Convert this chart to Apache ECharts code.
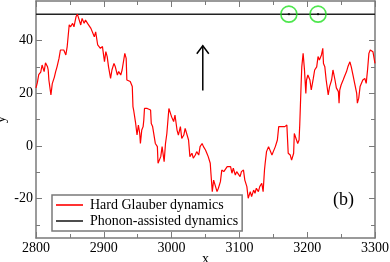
<!DOCTYPE html>
<html>
<head>
<meta charset="utf-8">
<script src="https://cdn.jsdelivr.net/npm/echarts@6/dist/echarts.min.js"></script>
<style>html,body{margin:0;padding:0;background:#fff}#c{width:390px;height:262px}</style>
</head>
<body>
<div id="c"></div>
<script>
// ---- data ----
const timeX = [2800,2802,2804,2807,2809,2812,2814,2817,2818,2819,2822,2824,2827,2829,2831,2834,2836,2841,2844,2846,2849,2851,2854,2856,2859,2861,2863,2866,2868,2871,2873,2876,2878,2881,2883,2886,2888,2891,2893,2895,2898,2900,2901,2903,2905,2907,2910,2912,2915,2917,2920,2922,2925,2927,2929,2931,2933,2934,2939,2942,2943,2944,2947,2949,2951,2953,2954,2956,2958,2959,2960,2964,2969,2970,2972,2974,2976,2979,2980,2982,2984,2986,2989,2991,2993,2996,2998,3000,3003,3005,3008,3010,3013,3015,3018,3020,3022,3025,3027,3030,3032,3035,3037,3040,3042,3045,3047,3050,3052,3054,3057,3058,3060,3062,3064,3067,3069,3072,3074,3077,3079,3082,3084,3087,3089,3091,3094,3096,3098,3101,3103,3106,3108,3111,3113,3116,3118,3121,3123,3125,3128,3130,3133,3135,3137,3138,3140,3143,3145,3148,3150,3153,3155,3156,3158,3162,3167,3170,3171,3172,3175,3177,3180,3181,3183,3186,3188,3189,3191,3192,3194,3196,3198,3199,3201,3204,3206,3209,3211,3214,3216,3218,3221,3223,3224,3226,3228,3231,3233,3236,3238,3241,3243,3246,3247,3248,3250,3253,3255,3258,3260,3263,3265,3268,3270,3273,3274,3276,3278,3280,3282,3285,3287,3289,3291,3293,3295,3297,3300];
const hardGlauberY = [22,24,27,28,30.7,28.2,31.5,30,28.8,25,19.3,23.6,26,28.2,30,33.3,36.4,36.4,34.5,37.7,46,45.2,46.5,45.2,49,50,48.4,45.9,48.4,46.5,47.8,46.5,47.1,44.6,45.2,41.4,43.3,38.3,38.9,37,37.7,37.7,32,35.8,33.9,30,25.6,28.8,31.3,30,26.9,28.2,26.9,28.8,28.2,35.1,33.2,25,24.4,22.5,14.9,13.6,8.5,4.1,7.9,4.7,0.9,6,7.3,9.8,14.2,14.2,13.6,8.5,7.3,7.9,0.9,-0.3,-6.6,-6.6,-4.1,-0.3,-6,0.9,4.7,14.2,13.6,11,9.2,11.7,6,4.1,7.3,2.8,4.1,6.6,7.3,2.2,-4.1,-2.8,-4.7,-3.5,-2.2,-3.5,-0.3,0.9,-0.3,-1.6,-2.8,-4.1,-6.6,-10.4,-17.4,-13,-13.6,-17.4,-16.1,-13.6,-9.2,-9.8,-9.2,-7.9,-7.3,-7.9,-10.4,-8.5,-11.1,-9.8,-10.4,-11.7,-9.8,-9.2,-13,-15.5,-19.9,-17.4,-19.3,-16.8,-18,-16.1,-17.4,-15.5,-14.2,-17.4,-9.2,-6.6,-2.2,-0.3,-0.3,-3.5,-2.2,-0.3,-0.3,2.2,7.3,7.3,7.3,7.9,7.3,-2.8,-3.5,-5.4,-2.8,4.7,4.7,0.9,2.2,7.9,23.1,30,35.1,28.8,19.9,25,26.9,25,21.2,25.6,28.8,30,33.9,32.6,34.5,37,31.3,30,25,19.3,22.5,25,28.8,25,22,20.6,16.2,21.2,23.1,25,26.3,28.2,30,31.9,30,26.3,23.7,19.9,16.2,18.1,22.5,23.1,25,25.6,23.7,28.8,35.1,36.4,37,35.7,31.3];
const phononX = [2800, 3300];
const phononY = [50, 50];
const markedX = [3173, 3216];
const markedY = [50, 50];
const arrowFrom = [3046, 21];
const arrowTo = [3046, 38];
const yTickValues = [-20, 0, 20, 40];
const yMinorValues = [-30, -10, 10, 30, 50];
const seriesNames = ['Hard Glauber dynamics', 'Phonon-assisted dynamics'];
const seriesColors = ['#ff0000', '#222222'];
const panelLabel = '(b)';

// ---- chart ----
const FONT = 'Liberation Serif';
const AX = '#7a7a7a';
const chart = echarts.init(document.getElementById('c'), null, {renderer: 'canvas'});
const pairs = (xs, ys) => xs.map((x, i) => [x, ys[i]]);

const yBase = {type: 'value', min: -35, max: 55, splitLine: {show: false}};
const lineOpt = (show) => ({show: show, onZero: false, lineStyle: {color: AX, width: 1.5}});
chart.setOption({
  animation: false,
  backgroundColor: '#fff',
  grid: {left: 36, right: 15, top: 1, bottom: 24, containLabel: false, outerBoundsMode: 'none'},
  xAxis: [
    {type: 'value', position: 'bottom', min: 2800, max: 3300, interval: 100,
     axisLine: lineOpt(true),
     axisTick: {inside: true, length: 6, lineStyle: {color: AX, width: 1}},
     minorTick: {show: true, splitNumber: 2, length: 4, lineStyle: {color: AX, width: 1}},
     splitLine: {show: false}, minorSplitLine: {show: false},
     axisLabel: {color: '#000', fontFamily: FONT, fontSize: 14, margin: 3, formatter: v => String(v)},
     name: 'x', nameLocation: 'middle', nameGap: 14, nameMoveOverlap: false,
     nameTextStyle: {color: '#000', fontFamily: FONT, fontSize: 14}},
    {type: 'value', position: 'top', min: 2800, max: 3300, interval: 100,
     axisLine: lineOpt(true),
     axisTick: {inside: true, length: 6, lineStyle: {color: AX, width: 1}},
     minorTick: {show: true, splitNumber: 2, length: 4, lineStyle: {color: AX, width: 1}},
     splitLine: {show: false}, axisLabel: {show: false}}
  ],
  yAxis: [
    Object.assign({}, yBase, {position: 'left',
     axisLine: lineOpt(true),
     axisTick: {show: true, inside: true, length: 6, customValues: yTickValues, lineStyle: {color: AX, width: 1}},
     axisLabel: {color: '#000', fontFamily: FONT, fontSize: 14, margin: 3, customValues: yTickValues, formatter: v => String(v)},
     name: 'y', nameLocation: 'middle', nameGap: 28, nameRotate: 90, nameMoveOverlap: false,
     nameTextStyle: {color: '#000', fontFamily: FONT, fontSize: 14}}),
    Object.assign({}, yBase, {position: 'left',
     axisLine: lineOpt(false),
     axisTick: {show: true, inside: true, length: 4, customValues: yMinorValues, lineStyle: {color: AX, width: 1}},
     axisLabel: {show: false}}),
    Object.assign({}, yBase, {position: 'right',
     axisLine: lineOpt(true),
     axisTick: {show: true, inside: true, length: 6, customValues: yTickValues, lineStyle: {color: AX, width: 1}},
     axisLabel: {show: false}}),
    Object.assign({}, yBase, {position: 'right',
     axisLine: lineOpt(false),
     axisTick: {show: true, inside: true, length: 4, customValues: yMinorValues, lineStyle: {color: AX, width: 1}},
     axisLabel: {show: false}})
  ],
  legend: {
    data: seriesNames.map((n, i) => ({name: n, icon: 'rect', itemStyle: {color: seriesColors[i]}})),
    orient: 'vertical',
    left: 52, top: 195,
    padding: [3, 4, 3, 4],
    itemGap: 2,
    itemWidth: 27, itemHeight: 1.6,
    borderColor: AX, borderWidth: 1.5, borderRadius: 0,
    backgroundColor: '#fff',
    textStyle: {color: '#000', fontFamily: FONT, fontSize: 14, padding: [0, 0, 0, 2], lineHeight: 14}
  },
  series: [
    {name: seriesNames[0], type: 'line', data: pairs(timeX, hardGlauberY),
     symbol: 'none', lineStyle: {color: seriesColors[0], width: 1.2}, itemStyle: {color: seriesColors[0]}, z: 3},
    {name: seriesNames[1], type: 'line', data: pairs(phononX, phononY),
     symbol: 'none', lineStyle: {color: seriesColors[1], width: 1.5}, itemStyle: {color: seriesColors[1]}, z: 2},
    {type: 'scatter', data: pairs(markedX, markedY), symbol: 'circle', symbolSize: 16,
     itemStyle: {color: 'rgba(0,0,0,0)', borderColor: '#22e022', borderWidth: 1.6}, z: 4, silent: true},
    {type: 'scatter', data: pairs(markedX, markedY), symbol: 'rect', symbolSize: 2,
     itemStyle: {color: '#000'}, z: 5, silent: true},
    {type: 'custom', data: [[arrowFrom[0], arrowFrom[1], arrowTo[0], arrowTo[1]]],
     encode: {x: [0, 2], y: [1, 3]}, z: 5, silent: true,
     renderItem: function (params, api) {
       const a = api.coord([api.value(0), api.value(1)]);
       const b = api.coord([api.value(2), api.value(3)]);
       return {type: 'group', children: [
         {type: 'line', shape: {x1: a[0], y1: a[1], x2: b[0], y2: b[1]}, style: {stroke: '#000', lineWidth: 1.5}},
         {type: 'polyline', shape: {points: [[b[0] - 6, b[1] + 8], [b[0], b[1]], [b[0] + 6, b[1] + 8]]}, style: {stroke: '#000', lineWidth: 1.5, fill: null}}
       ]};
     }}
  ],
  graphic: [
    {type: 'text', left: 333, top: 191, style: {text: panelLabel, fill: '#000', font: '18px "Liberation Serif"'}}
  ]
});
</script>
</body>
</html>
